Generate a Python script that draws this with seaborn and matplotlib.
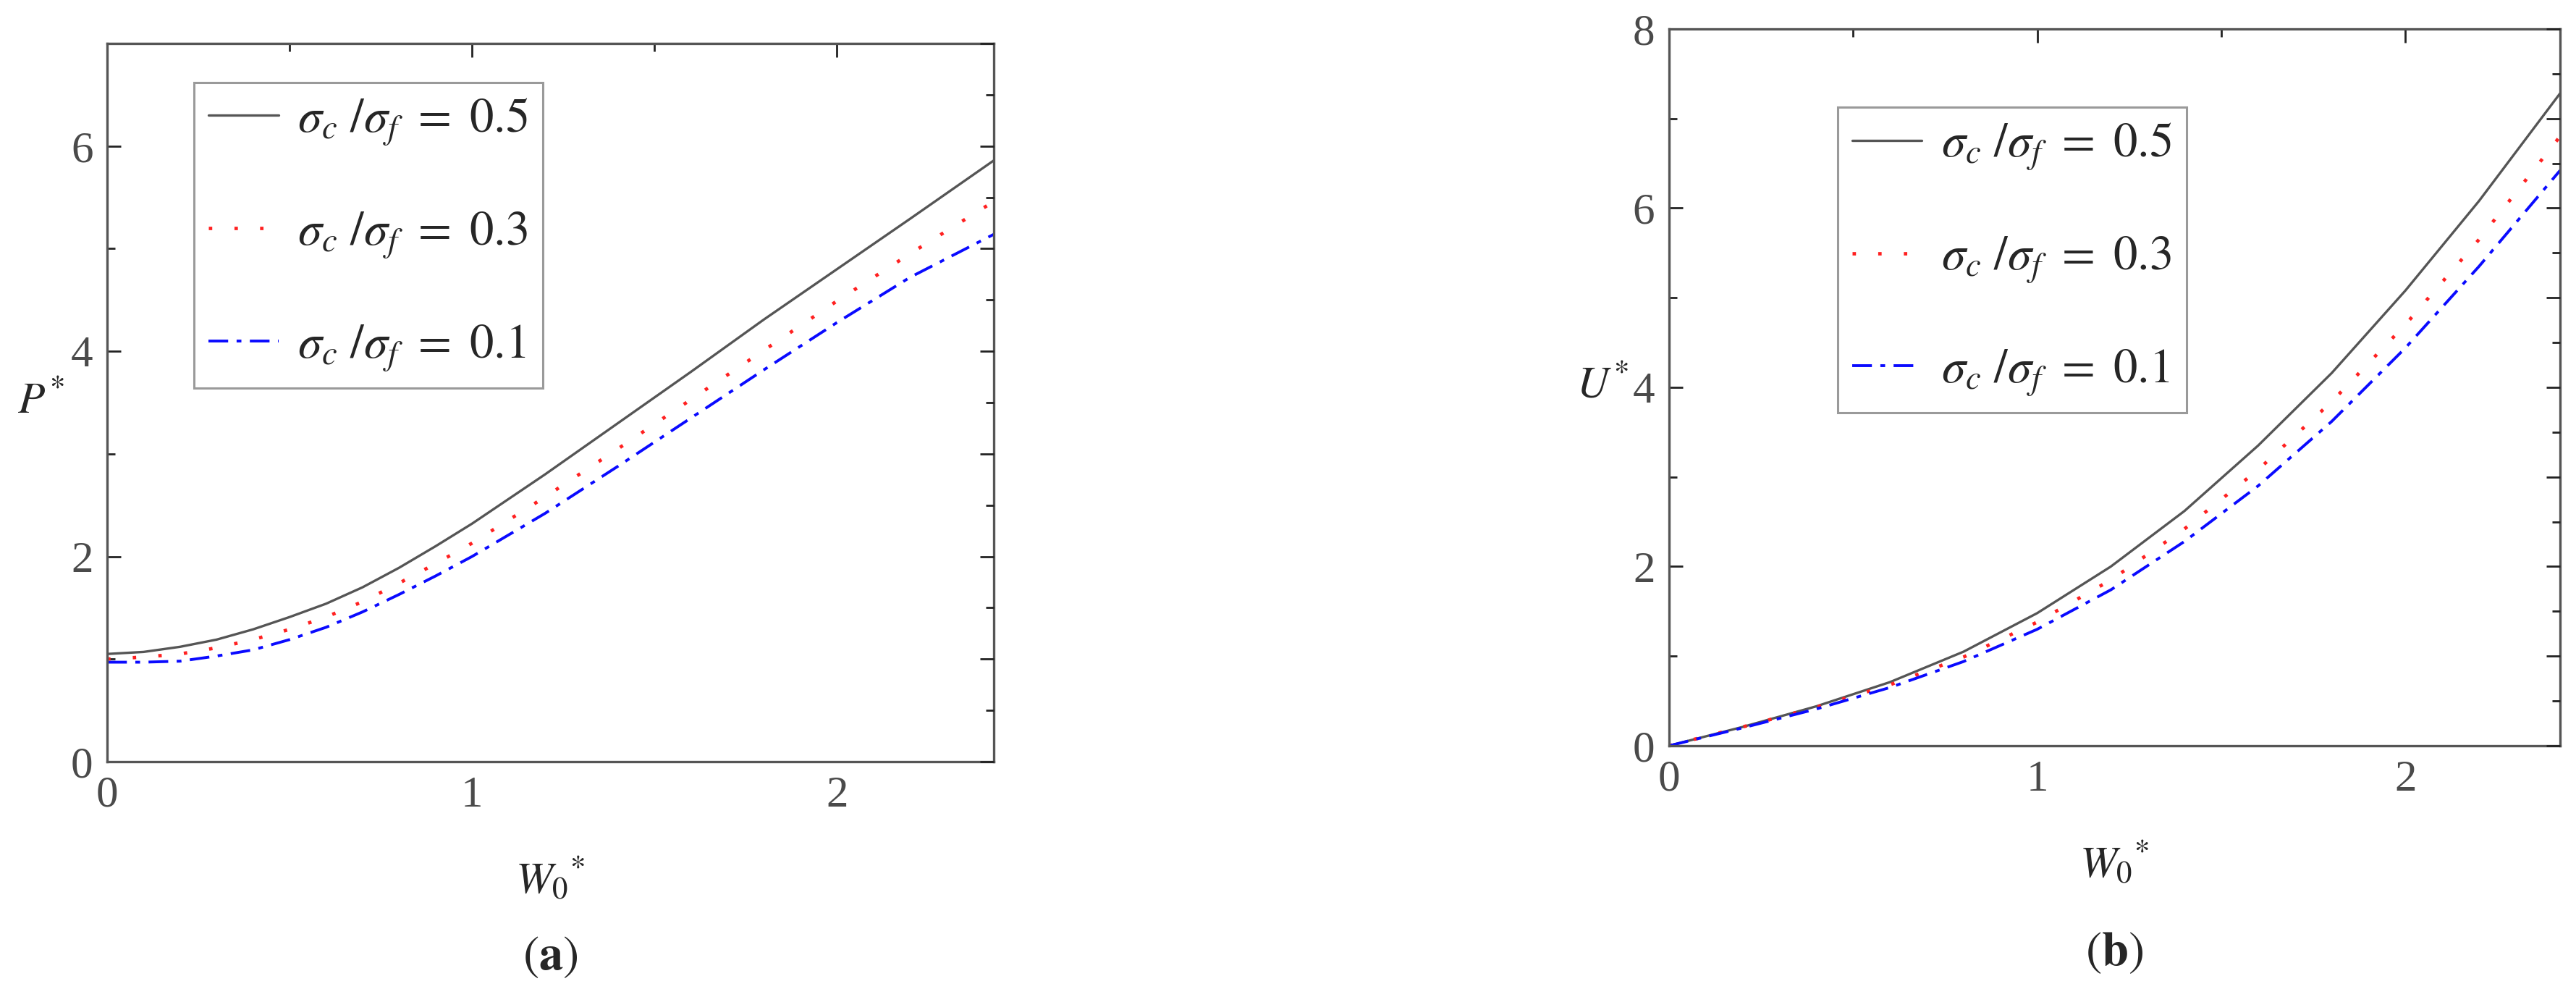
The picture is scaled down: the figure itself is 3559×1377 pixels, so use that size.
import matplotlib
matplotlib.use("Agg")
import matplotlib.pyplot as plt
import seaborn as sns
import numpy as np
import pandas as pd
from matplotlib.ticker import MultipleLocator

# values
ratios = ["0.5", "0.3", "0.1"]

w0_a = [0.0, 0.1, 0.2, 0.3, 0.4, 0.5, 0.6, 0.7, 0.8, 0.9, 1.0, 1.2, 1.4, 1.6, 1.8, 2.0, 2.2, 2.43]
p_05 = [1.05, 1.07, 1.12, 1.19, 1.29, 1.41, 1.54, 1.70, 1.89, 2.10, 2.32, 2.80, 3.30, 3.80, 4.31, 4.80, 5.29, 5.86]
p_03 = [1.00, 1.02, 1.05, 1.11, 1.19, 1.29, 1.41, 1.56, 1.74, 1.93, 2.13, 2.58, 3.05, 3.53, 4.01, 4.49, 4.95, 5.46]
p_01 = [0.97, 0.97, 0.98, 1.03, 1.09, 1.19, 1.31, 1.46, 1.63, 1.81, 2.00, 2.42, 2.88, 3.35, 3.82, 4.28, 4.72, 5.14]

w0_b = [0.0, 0.2, 0.4, 0.6, 0.8, 1.0, 1.2, 1.4, 1.6, 1.8, 2.0, 2.2, 2.42]
u_05 = [0.0, 0.21, 0.44, 0.71, 1.05, 1.48, 2.00, 2.62, 3.35, 4.16, 5.08, 6.08, 7.28]
u_03 = [0.0, 0.21, 0.43, 0.68, 0.99, 1.38, 1.85, 2.42, 3.08, 3.84, 4.70, 5.65, 6.80]
u_01 = [0.0, 0.20, 0.41, 0.65, 0.94, 1.30, 1.74, 2.28, 2.90, 3.62, 4.44, 5.35, 6.42]

x_ticks = [0, 1, 2]
ya_ticks = [0, 2, 4, 6]
yb_ticks = [0, 2, 4, 6, 8]


def long_frame(x, series, yname):
    rows = []
    for r, ys in zip(ratios, series):
        for xv, yv in zip(x, ys):
            rows.append({"W0": xv, yname: yv, "ratio": r})
    return pd.DataFrame(rows)


df_a = long_frame(w0_a, [p_05, p_03, p_01], "P")
df_b = long_frame(w0_b, [u_05, u_03, u_01], "U")

sns.set_style("white")
plt.rcParams["font.family"] = ["Liberation Serif", "DejaVu Serif"]
plt.rcParams["mathtext.fontset"] = "stix"

palette = {"0.5": "#555555", "0.3": "#ff2020", "0.1": "#0a0aff"}
dashes = {"0.5": "", "0.3": (1, 6.5), "0.1": (7, 3, 1.7, 3)}
widths = {"0.5": 2.4, "0.3": 3.4, "0.1": 2.8}
spine_col = "#555555"
tick_col = "#4a4a4a"
fs = 44
fs_leg = 48

fig = plt.figure(figsize=(35.59, 13.77), dpi=100)
ax1 = fig.add_axes([0.0416, 0.236, 0.3442, 0.7204])
ax2 = fig.add_axes([0.6479, 0.252, 0.3459, 0.719])


def style_axes(ax, ymax, yticks, ylabel, leg_anchor):
    ax.set_xlim(0, ax.get_lines()[0].get_xdata().max())
    ax.set_ylim(0, ymax)
    ax.set_xticks(x_ticks)
    ax.set_yticks(yticks)
    ax.xaxis.set_minor_locator(MultipleLocator(0.5))
    ax.yaxis.set_minor_locator(MultipleLocator(1))
    for s in ax.spines.values():
        s.set_color(spine_col)
        s.set_linewidth(2.4)
    ax.tick_params(which="both", direction="in", top=True, right=False,
                   colors="#222222", labelcolor=tick_col, labelsize=fs, width=2)
    ax.tick_params(which="major", length=14, pad=14)
    ax.tick_params(which="minor", length=8)
    ax.set_xlabel(r"$W_0{}^{*}$", fontsize=fs, labelpad=40)
    ax.set_ylabel(ylabel, fontsize=fs, rotation=0, labelpad=30, va="center")

    # right-hand ticks every 0.5
    tw = ax.twinx()
    tw.set_ylim(0, ymax)
    tw.yaxis.set_major_locator(MultipleLocator(1))
    tw.yaxis.set_minor_locator(MultipleLocator(0.5))
    tw.tick_params(which="both", direction="in", labelright=False, colors="#222222", width=2)
    tw.tick_params(which="major", length=14)
    tw.tick_params(which="minor", length=8)
    for s in tw.spines.values():
        s.set_visible(False)

    for ln, r in zip(ax.get_lines(), ratios):
        ln.set_linewidth(widths[r])
    labels = [r"$\sigma_c\ /\sigma_f\ =\ %s$" % r for r in ratios]
    leg = ax.legend(ax.get_lines()[:3], labels, loc="upper left", bbox_to_anchor=leg_anchor,
                    fontsize=fs_leg, frameon=True, fancybox=False, framealpha=1,
                    handlelength=1.45, handletextpad=0.4, labelspacing=1.3,
                    borderpad=0.3, borderaxespad=0)
    leg.get_frame().set_edgecolor("#9a9a9a")
    leg.get_frame().set_linewidth(2.2)


sns.lineplot(data=df_a, x="W0", y="P", hue="ratio", style="ratio", hue_order=ratios,
             style_order=ratios, palette=palette, dashes=dashes, legend=False, ax=ax1)
sns.lineplot(data=df_b, x="W0", y="U", hue="ratio", style="ratio", hue_order=ratios,
             style_order=ratios, palette=palette, dashes=dashes, legend=False, ax=ax2)

style_axes(ax1, 7, ya_ticks, r"$P^{*}$", (0.098, 0.946))
style_axes(ax2, 8, yb_ticks, r"$U^{*}$", (0.189, 0.891))

fig.text(0.2135, 0.04, r"$(\mathbf{a})$", fontsize=48, ha="center", va="center")
fig.text(0.8207, 0.044, r"$(\mathbf{b})$", fontsize=48, ha="center", va="center")

fig.savefig("out.png", dpi=100, facecolor="white")
